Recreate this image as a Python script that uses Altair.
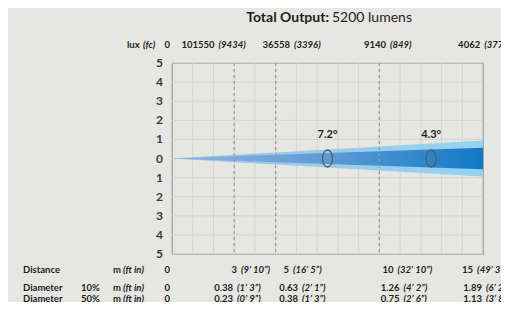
import altair as alt
import pandas as pd

# ---- data ----
distances = [0, 3, 5, 10, 15]                      # m
dia10 = [0, 0.38, 0.63, 1.26, 1.89]                # beam diameter 10% (m)
dia50 = [0, 0.23, 0.38, 0.75, 1.13]                # beam diameter 50% (m)
dist_labels = ["0", "3", "5", "10", "15"]
dist_ft = ["", "(9’ 10”)", "(16’ 5”)", "(32’ 10”)", "(49’ 3”)"]
dia10_labels = ["0", "0.38", "0.63", "1.26", "1.89"]
dia10_ft = ["", "(1’ 3”)", "(2’ 1”)", "(4’ 2”)", "(6’ 2”)"]
dia50_labels = ["0", "0.23", "0.38", "0.75", "1.13"]
dia50_ft = ["", "(0’ 9”)", "(1’ 3”)", "(2’ 6”)", "(3’ 8”)"]
lux_labels = ["0", "101550", "36558", "9140", "4062"]
fc_labels = ["", "(9434)", "(3396)", "(849)", "(377)"]
angles = [7.2, 4.3]
angle_pos = [7.5, 12.5]
dashed_at = [3, 5, 10]
x_grid = list(range(1, 15))
y_ticks = list(range(-5, 6))
y_tick_labels = [str(abs(v)) for v in y_ticks]

# text column anchors in the datasheet table (m along the x scale)
col_top = [0, 2.15, 5.79, 10.42, 14.96]
col_dist = [0, 3.23, 5.74, 10.78, 14.62]
col_dia = [0, 3.04, 6.17, 11.07, 15.05]

FONT = "Lato"
TXT = "#1e1e1e"
GRID = "#d4d4d4"

beam = pd.DataFrame({
    "d": distances,
    "lo10": [-v / 2 for v in dia10], "hi10": [v / 2 for v in dia10],
    "lo50": [-v / 2 for v in dia50], "hi50": [v / 2 for v in dia50],
})

xs = alt.Scale(domain=[0, 15], nice=False, zero=False)
ys = alt.Scale(domain=[-5, 5], nice=False)

ydf = pd.DataFrame({"v": y_ticks, "lab": y_tick_labels})

# grid drawn as rules
ygrid = alt.Chart(ydf).mark_rule(color=GRID, strokeWidth=1).encode(
    y=alt.Y("v:Q", scale=ys,
            axis=alt.Axis(values=y_ticks, labels=False, title=None, grid=False,
                          domain=False, ticks=True, tickSize=4, tickColor="#a0a0a0"))
)
ylabels = alt.Chart(ydf).mark_text(
    align="right", baseline="middle", x=-9, font=FONT, fontSize=12,
    fontWeight="bold", color="#3a3a3a"
).encode(y=alt.Y("v:Q", axis=None), text="lab:N")

xgrid = alt.Chart(pd.DataFrame({"v": x_grid})).mark_rule(
    color=GRID, strokeWidth=1
).encode(x=alt.X("v:Q", scale=xs, axis=None))

base = alt.Chart(beam)

outer = base.mark_area(
    opacity=0.93,
    color=alt.LinearGradient(
        gradient="linear", x1=0, x2=1, y1=0, y2=0,
        stops=[alt.GradientStop(offset=0, color="#9cc0e6"),
               alt.GradientStop(offset=1, color="#8dd2f3")])
).encode(x=alt.X("d:Q", axis=None), y=alt.Y("lo10:Q", axis=None), y2="hi10:Q")

inner = base.mark_area(
    opacity=0.93,
    color=alt.LinearGradient(
        gradient="linear", x1=0, x2=1, y1=0, y2=0,
        stops=[alt.GradientStop(offset=0, color="#8fb6e0"),
               alt.GradientStop(offset=0.5, color="#5a97d2"),
               alt.GradientStop(offset=1, color="#0872c4")])
).encode(x=alt.X("d:Q", axis=None), y=alt.Y("lo50:Q", axis=None), y2="hi50:Q")

dash_df = pd.DataFrame({"d": dashed_at})
dashes = alt.Chart(dash_df).mark_rule(
    color="#9a9a9a", strokeDash=[3, 3], strokeWidth=1.2
).encode(x=alt.X("d:Q", axis=None))

ang_df = pd.DataFrame({"d": angle_pos, "a": [f"{a}°" for a in angles], "y0": [0, 0]})
ovals = alt.Chart(ang_df).mark_point(
    shape="M0,-1 A0.59,1 0 1,1 0,1 A0.59,1 0 1,1 0,-1 Z",
    size=289, filled=False, stroke="#5a5a5a", strokeWidth=1.3, opacity=1
).encode(x=alt.X("d:Q", axis=None), y=alt.Y("y0:Q", axis=None))
ang_txt = alt.Chart(ang_df).mark_text(
    font=FONT, fontSize=11, fontWeight="bold", color=TXT, dy=-24
).encode(x=alt.X("d:Q", axis=None), y=alt.Y("y0:Q", axis=None), text="a:N")


def table_row(cols, nums, parens, ypix):
    df = pd.DataFrame({"c": cols, "n": nums, "p": parens})
    n = alt.Chart(df).mark_text(
        align="right", baseline="middle", dx=-2, y=ypix,
        font=FONT, fontSize=9.5, fontWeight="bold", color=TXT
    ).encode(x=alt.X("c:Q", axis=None), text="n:N")
    p = alt.Chart(df).mark_text(
        align="left", baseline="middle", dx=2, y=ypix,
        font=FONT, fontSize=9.5, fontWeight="bold", fontStyle="italic", color=TXT
    ).encode(x=alt.X("c:Q", axis=None), text="p:N")
    return [n, p]


def fixed_text(text, xpix, ypix, italic=False, size=9.5, weight="bold", align="left"):
    df = pd.DataFrame({"t": [text]})
    kw = dict(align=align, baseline="middle", x=xpix, y=ypix, font=FONT,
              fontSize=size, fontWeight=weight, color=TXT)
    if italic:
        kw["fontStyle"] = "italic"
    return alt.Chart(df).mark_text(**kw).encode(text="t:N")


rows = []
rows += table_row(col_top, lux_labels, fc_labels, -18)
rows += table_row(col_dist, dist_labels, dist_ft, 207)
rows += table_row(col_dia, dia10_labels, dia10_ft, 225)
rows += table_row(col_dia, dia50_labels, dia50_ft, 235.5)

labels = [
    fixed_text("Total Output:", 157, -45, size=14, align="right"),
    fixed_text("5200 lumens", 160, -45, size=14, weight="normal"),
    fixed_text("lux", -45, -18),
    fixed_text("(fc)", -29, -18, italic=True),
    fixed_text("Distance", -149, 207),
    fixed_text("m", -59, 207),
    fixed_text("(ft in)", -49, 207, italic=True),
    fixed_text("Diameter", -149, 225),
    fixed_text("10%", -91, 225),
    fixed_text("m", -59, 225),
    fixed_text("(ft in)", -49, 225, italic=True),
    fixed_text("Diameter", -149, 235.5),
    fixed_text("50%", -91, 235.5),
    fixed_text("m", -59, 235.5),
    fixed_text("(ft in)", -49, 235.5, italic=True),
]

chart = alt.layer(ygrid, xgrid, outer, inner, dashes, ovals, ang_txt, ylabels,
                  *rows, *labels).properties(
    width=311, height=191,
    autosize=alt.AutoSizeParams(type="none"),
    padding={"left": 164, "top": 55, "right": 18, "bottom": 48},
    background="#e6e6e2",
).configure_view(fill="white", stroke="#a0a0a0", strokeWidth=1.2)

chart.save("out.html", embed_options={"renderer": "svg", "actions": False})
